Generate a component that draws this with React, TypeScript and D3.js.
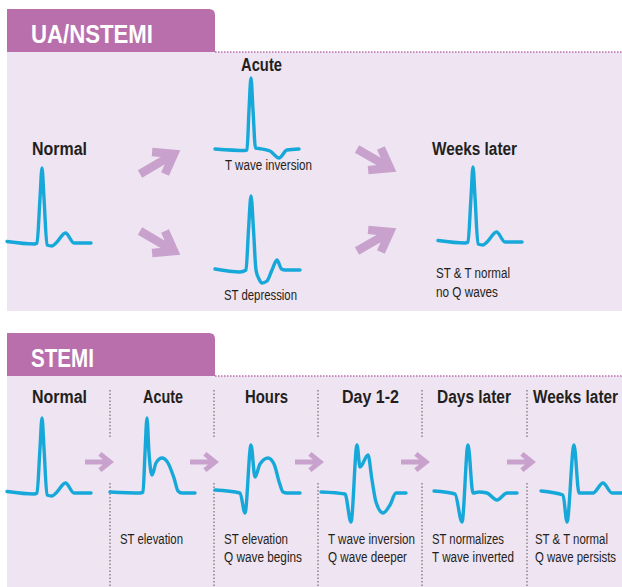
import React from "react";
import * as d3 from "d3";

// ECG beats, sampled as [time (s), voltage (mV)]
const normalBeat: [number, number][] = [
  [0, 0.03], [0.27, -0.02], [0.3, 0], [0.33, 0.9], [0.35, 1.5], [0.37, 0.9],
  [0.4, -0.04], [0.45, -0.06], [0.49, 0], [0.585, 0.2], [0.67, 0], [0.84, 0],
];
const tInversionBeat: [number, number][] = [
  [0, 0.02], [0.3, -0.01], [0.32, 0], [0.34, 0.8], [0.36, 1.44], [0.38, 0.8],
  [0.405, 0.04], [0.44, 0.03], [0.55, -0.02], [0.64, -0.16], [0.72, 0], [0.84, 0.02],
];
const stDepressionBeat: [number, number][] = [
  [0, 0.02], [0.25, -0.04], [0.31, 0], [0.335, 0.8], [0.36, 1.48], [0.385, 0.8],
  [0.41, 0], [0.44, -0.18], [0.47, -0.26], [0.52, -0.22], [0.57, 0], [0.62, 0.2],
  [0.665, 0.02], [0.7, 0], [0.85, 0],
];
const stElevationBeat: [number, number][] = [
  [0, 0.02], [0.3, 0], [0.33, 0.02], [0.35, 0.8], [0.37, 1.5], [0.39, 0.8],
  [0.42, 0.36], [0.46, 0.6], [0.52, 0.7], [0.58, 0.6], [0.64, 0.3], [0.68, 0.04],
  [0.72, 0], [0.85, 0],
];
const qBeginsBeat: [number, number][] = [
  [0, 0.06], [0.25, 0], [0.3, -0.4], [0.36, 0.96], [0.4, 0.32], [0.45, 0.58],
  [0.53, 0.7], [0.59, 0.58], [0.645, 0.2], [0.68, 0.02], [0.72, 0], [0.85, 0],
];
const qDeeperBeat: [number, number][] = [
  [0, 0.02], [0.24, -0.02], [0.3, -0.58], [0.36, 0.96], [0.39, 0.52], [0.47, 0.76],
  [0.51, 0.26], [0.55, -0.18], [0.62, -0.4], [0.69, -0.24], [0.75, 0], [0.85, 0],
];
const tInvertedBeat: [number, number][] = [
  [0, 0.04], [0.21, -0.02], [0.28, -0.58], [0.34, 0.96], [0.39, 0], [0.45, 0.02],
  [0.53, 0], [0.63, -0.14], [0.73, 0], [0.83, 0],
];
const qPersistsBeat: [number, number][] = [
  [0, 0.04], [0.22, -0.04], [0.26, -0.58], [0.33, 0.96], [0.38, 0], [0.52, 0],
  [0.62, 0.2], [0.71, 0], [0.81, 0],
];

const stemiStages = ["Normal", "Acute", "Hours", "Day 1-2", "Days later", "Weeks later"];
const stemiBeats = [normalBeat, stElevationBeat, qBeginsBeat, qDeeperBeat, tInvertedBeat, qPersistsBeat];
const stemiNotes = [
  [],
  ["ST elevation"],
  ["ST elevation", "Q wave begins"],
  ["T wave inversion", "Q wave deeper"],
  ["ST normalizes", "T wave inverted"],
  ["ST & T normal", "Q wave persists"],
];

const TAB = "#b96fac";
const PANEL = "#efe4f1";
const ARROW = "#c9a1cd";
const TRACE = "#17a8da";
const INK = "#231f20";
const FONT = "'Liberation Sans', Arial, sans-serif";

// condensed look: squeeze each label to the width it takes in the original
const stemiTitleX = [32, 143, 245, 342, 437, 533];
const stemiTitleW = [55, 40, 43, 57, 74, 85];
const stemiNoteX = [0, 120, 224, 328, 432, 535];
const stemiNoteW = [[], [63], [64, 78], [87, 79], [72, 82], [73, 81]];

function Trace({ beat, x0, baseline }: { beat: [number, number][]; x0: number; baseline: number }) {
  const x = d3.scaleLinear().domain([0, 1]).range([x0, x0 + 100]);
  const y = d3.scaleLinear().domain([0, 1]).range([baseline, baseline - 50]);
  const line = d3
    .line<[number, number]>()
    .x((d) => x(d[0]))
    .y((d) => y(d[1]))
    .curve(d3.curveMonotoneX);
  return (
    <path d={line(beat) || ""} fill="none" stroke={TRACE} strokeWidth={3.4}
      strokeLinecap="round" strokeLinejoin="round" />
  );
}

function Arrow({ x1, y1, x2, y2, w, arm, spread }: any) {
  const a = Math.atan2(y2 - y1, x2 - x1);
  const back = a + Math.PI;
  const ax = (s: number) => x2 + arm * Math.cos(back + s * spread);
  const ay = (s: number) => y2 + arm * Math.sin(back + s * spread);
  const sx = x2 - (w / 2) * Math.cos(a);
  const sy = y2 - (w / 2) * Math.sin(a);
  const d = `M${x1},${y1}L${sx},${sy}M${ax(1)},${ay(1)}L${x2},${y2}L${ax(-1)},${ay(-1)}`;
  return <path d={d} fill="none" stroke={ARROW} strokeWidth={w} strokeLinejoin="miter" strokeMiterlimit={10} />;
}

const Label = ({ x, y, w, size, bold, fill = INK, children }: any) => (
  <text x={x} y={y} fontSize={size} fontWeight={bold ? "bold" : "normal"} fill={fill}
    fontFamily={FONT} textLength={w} lengthAdjust="spacingAndGlyphs">{children}</text>
);

function Tab({ y, label, w }: { y: number; label: string; w: number }) {
  const x0 = 7, x1 = 215, h = 43, r = 6;
  const d = `M${x0},${y + h}V${y}H${x1 - r}Q${x1},${y} ${x1},${y + r}V${y + h}Z`;
  return (
    <g>
      <path d={d} fill={TAB} />
      <Label x={31} y={y + 34} w={w} size={25} bold fill="#fff">{label}</Label>
      <line x1={x1} x2={622} y1={y + h} y2={y + h} stroke={TAB} strokeWidth={1.5} strokeDasharray="1.5 1.5" />
    </g>
  );
}

export default function App() {
  const colLeft = [7, 110, 214, 318, 422, 527];
  const traceX = [7, 110, 215, 321, 434, 541];
  const arrowX = [85, 190, 295, 401, 507];

  return (
    <svg width={622} height={587} style={{ position: "absolute", left: 0, top: 0 }}>
      {/* UA/NSTEMI */}
      <rect x={7} y={52} width={615} height={259} fill={PANEL} />
      <Tab y={9} label="UA/NSTEMI" w={122} />
      <Label x={32} y={155} w={55} size={18} bold>Normal</Label>
      <Label x={241} y={71} w={41} size={18} bold>Acute</Label>
      <Label x={432} y={155} w={85} size={18} bold>Weeks later</Label>
      <Trace beat={normalBeat} x0={7} baseline={243} />
      <Trace beat={tInversionBeat} x0={215} baseline={150} />
      <Trace beat={stDepressionBeat} x0={215} baseline={270} />
      <Trace beat={normalBeat} x0={438} baseline={242} />
      <Label x={225} y={170} w={87} size={15.5}>T wave inversion</Label>
      <Label x={224} y={300} w={73} size={15.5}>ST depression</Label>
      <Label x={436} y={278} w={74} size={15.5}>ST &amp; T normal</Label>
      <Label x={436} y={297} w={62} size={15.5}>no Q waves</Label>
      <Arrow x1={140} y1={174} x2={174} y2={154} w={8.5} arm={22} spread={0.62} />
      <Arrow x1={140} y1={231} x2={174} y2={251} w={8.5} arm={22} spread={0.62} />
      <Arrow x1={357} y1={149} x2={390} y2={168} w={8.5} arm={22} spread={0.62} />
      <Arrow x1={357} y1={251} x2={390} y2={232} w={8.5} arm={22} spread={0.62} />

      {/* STEMI */}
      <rect x={7} y={376} width={615} height={211} fill={PANEL} />
      <Tab y={333} label="STEMI" w={63} />
      {colLeft.slice(1).map((cx) => (
        <g key={cx}>
          <line x1={cx} x2={cx} y1={390} y2={438} stroke="#555" strokeWidth={1} strokeDasharray="1.5 2" />
          <line x1={cx} x2={cx} y1={483} y2={587} stroke="#555" strokeWidth={1} strokeDasharray="1.5 2" />
        </g>
      ))}
      {stemiStages.map((s, i) => (
        <g key={s}>
          <Label x={stemiTitleX[i]} y={403} w={stemiTitleW[i]} size={18} bold>{s}</Label>
          <Trace beat={stemiBeats[i]} x0={traceX[i]} baseline={493} />
          {stemiNotes[i].map((n, j) => (
            <Label key={n} x={stemiNoteX[i]} y={544 + j * 18} w={stemiNoteW[i][j]} size={15.5}>{n}</Label>
          ))}
        </g>
      ))}
      {arrowX.map((ax) => (
        <Arrow key={ax} x1={ax} y1={462} x2={ax + 25} y2={462} w={5} arm={13} spread={0.68} />
      ))}
    </svg>
  );
}
